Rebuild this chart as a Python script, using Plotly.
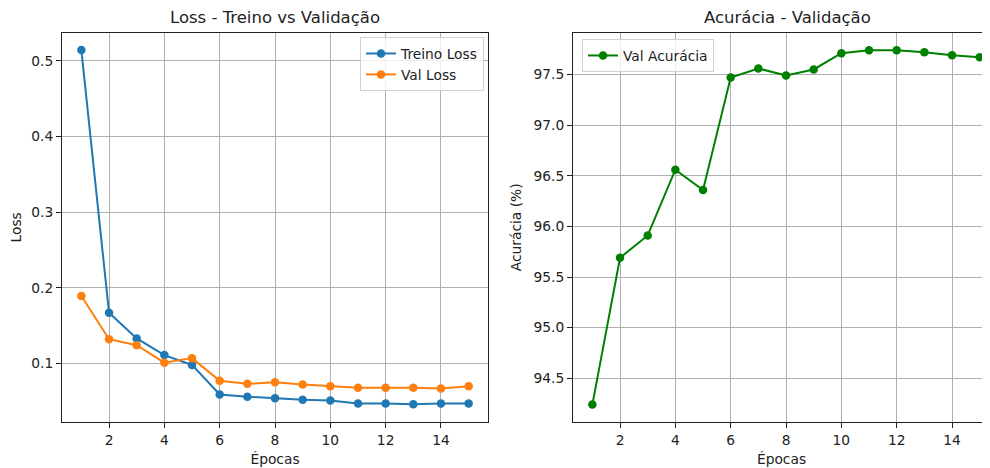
import plotly.graph_objects as go

# dados
epocas = list(range(1, 16))
treino_loss = [0.514, 0.167, 0.133, 0.111, 0.098, 0.059, 0.056, 0.054, 0.052, 0.051,
               0.047, 0.047, 0.046, 0.047, 0.047]
val_loss = [0.189, 0.132, 0.124, 0.101, 0.107, 0.077, 0.073, 0.075, 0.072, 0.070,
            0.068, 0.068, 0.068, 0.067, 0.070]
val_acc = [94.24, 95.69, 95.91, 96.56, 96.36, 97.47, 97.56, 97.49, 97.55, 97.71,
           97.74, 97.74, 97.72, 97.69, 97.67]

font_family = "DejaVu Sans"
W, H = 982, 460  # a página tem 8px de margem no body

fig = go.Figure()

fig.add_trace(go.Scatter(x=epocas, y=treino_loss, mode='lines+markers', name='Treino Loss',
                         line=dict(color='#1f77b4', width=2), marker=dict(size=8.5),
                         xaxis='x', yaxis='y', legend='legend'))
fig.add_trace(go.Scatter(x=epocas, y=val_loss, mode='lines+markers', name='Val Loss',
                         line=dict(color='#ff7f0e', width=2), marker=dict(size=8.5),
                         xaxis='x', yaxis='y', legend='legend'))
fig.add_trace(go.Scatter(x=epocas, y=val_acc, mode='lines+markers', name='Val Acurácia',
                         line=dict(color='#008000', width=2), marker=dict(size=8.5),
                         xaxis='x2', yaxis='y2', legend='legend2'))

axis_style = dict(showline=True, linecolor='#222222', linewidth=1.1,
                  ticks='outside', ticklen=5, tickcolor='#222222', tickwidth=1.1,
                  showgrid=True, gridcolor='#b0b0b0', gridwidth=1.1, zeroline=False,
                  tickfont=dict(size=13.8, color='#222222'))
title_font = dict(size=13.8, color='#222222')

fig.update_layout(
    width=W, height=H,
    margin=dict(l=0, r=0, t=0, b=0),
    plot_bgcolor='white', paper_bgcolor='white',
    font=dict(family=font_family, color='#222222'),
    xaxis=dict(domain=[54 / W, 480 / W], range=[0.3, 15.7], anchor='y', mirror=True,
               tickvals=[2, 4, 6, 8, 10, 12, 14],
               title=dict(text='Épocas', font=title_font, standoff=7), **axis_style),
    yaxis=dict(domain=[0.1, 1 - 24.7 / H], range=[0.0226, 0.537], anchor='x', mirror=True,
               tickvals=[0.1, 0.2, 0.3, 0.4, 0.5],
               title=dict(text='Loss', font=title_font, standoff=8), **axis_style),
    xaxis2=dict(domain=[565 / W, 1.0], range=[0.3, 15.373], anchor='y2', mirror=True,
                tickvals=[2, 4, 6, 8, 10, 12, 14],
                title=dict(text='Épocas', font=title_font, standoff=7), **axis_style),
    yaxis2=dict(domain=[0.1, 1 - 24.7 / H], range=[94.068, 97.913], anchor='x2', mirror=False,
                tickvals=[94.5, 95.0, 95.5, 96.0, 96.5, 97.0, 97.5], tickformat='.1f',
                title=dict(text='Acurácia (%)', font=title_font, standoff=8), **axis_style),
    legend=dict(x=476 / W, y=1 - 29 / H, xanchor='right', yanchor='top',
                bgcolor='rgba(255,255,255,0.8)', bordercolor='#d0d0d0', borderwidth=1,
                font=dict(size=13.8, color='#222222')),
    legend2=dict(x=574 / W, y=1 - 31 / H, xanchor='left', yanchor='top',
                 bgcolor='rgba(255,255,255,0.8)', bordercolor='#d0d0d0', borderwidth=1,
                 font=dict(size=13.8, color='#222222')),
    annotations=[
        dict(text='Loss - Treino vs Validação', x=267 / W, y=1 - 10 / H,
             xref='paper', yref='paper', xanchor='center', yanchor='middle',
             showarrow=False, font=dict(size=16.5, color='#222222')),
        dict(text='Acurácia - Validação', x=779 / W, y=1 - 10 / H,
             xref='paper', yref='paper', xanchor='center', yanchor='middle',
             showarrow=False, font=dict(size=16.5, color='#222222')),
    ],
)

fig.write_html("out.html")
